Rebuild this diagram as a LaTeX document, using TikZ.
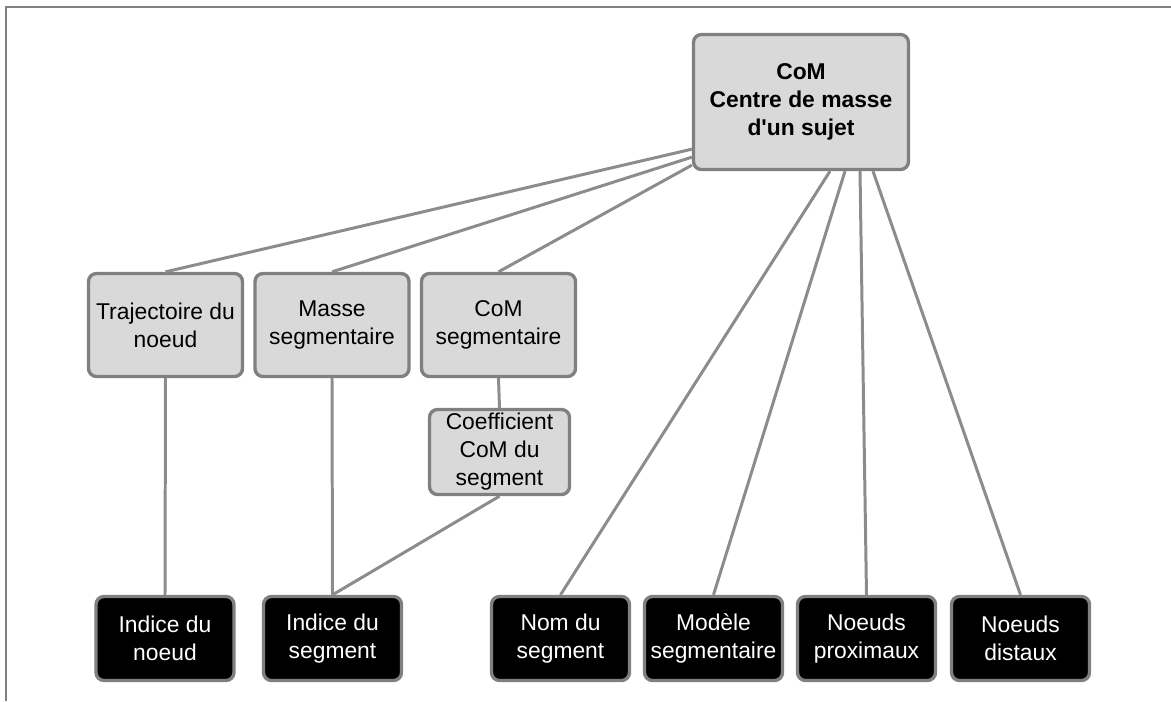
\documentclass[tikz,border=0pt]{standalone}
\usepackage{fontspec}
\setmainfont{Liberation Sans}
\usepackage{tikz}
\usetikzlibrary{calc}
\definecolor{boxfill}{RGB}{217,217,217}
\definecolor{boxline}{RGB}{128,128,128}
\definecolor{linkgray}{RGB}{140,140,140}
\tikzset{
    greybox/.style={rectangle, rounded corners=4.5pt, draw=boxline, line width=1.9pt,
      fill=boxfill, align=center, inner sep=1pt, font=\fontsize{13}{15.9}\selectfont},
    blackbox/.style={greybox, fill=black, text=white,
      minimum width=2.76cm, minimum height=1.68cm},
    midbox/.style={greybox, minimum width=3.08cm, minimum height=2.06cm},
    treelink/.style={-, line width=1.7pt, linkgray},
}

\begin{document}
\begin{tikzpicture}[x=0.02cm,y=-0.02cm]
  \useasboundingbox (0,0) rectangle (1171,701);
  % frame
  \draw[boxline, line width=1.4pt] (6,701) -- (6,7) -- (1171,7);
  % top node
  \node[greybox, minimum width=4.3cm, minimum height=2.7cm, font=\fontsize{13}{15.9}\selectfont\bfseries]
    (com) at (801,102) {CoM\\Centre de masse\\d\textquotesingle un sujet};
  % middle row
  \node[midbox] (traj) at (165.5,325) {Trajectoire du\\noeud};
  \node[midbox] (masse) at (332,325) {Masse\\segmentaire};
  \node[midbox] (comseg) at (498.5,325) {CoM\\segmentaire};
  \node[greybox, minimum width=2.8cm, minimum height=1.7cm] (coef) at (499.5,452)
    {Coefficient\\CoM du\\segment};
  % bottom row
  \node[blackbox] (inoeud) at (165,638.5) {Indice du\\noeud};
  \node[blackbox] (iseg) at (332.5,638.5) {Indice du\\segment};
  \node[blackbox] (nom) at (560.5,638.5) {Nom du\\segment};
  \node[blackbox] (modele) at (713.5,638.5) {Modèle\\segmentaire};
  \node[blackbox] (prox) at (866.5,638.5) {Noeuds\\proximaux};
  \node[blackbox] (dist) at (1020.5,638.5) {Noeuds\\distaux};
  % links from the top node
  \draw[treelink] ($(com.south west)+(0,-22)$) -- (traj.north);
  \draw[treelink] ($(com.south west)+(0,-14)$) -- (masse.north);
  \draw[treelink] ($(com.south west)+(0,-6)$) -- (comseg.north);
  \foreach \n/\dx in {nom/29, modele/44, prox/59, dist/72}{
    \draw[treelink] ($(com.south)+(\dx,0)$) -- (\n.north);
  }
  % lower links
  \draw[treelink] (traj.south) -- (inoeud.north);
  \draw[treelink] (masse.south) -- (iseg.north);
  \draw[treelink] (comseg.south) -- (coef.north);
  \draw[treelink] (coef.south) -- (iseg.north);
\end{tikzpicture}
\end{document}
